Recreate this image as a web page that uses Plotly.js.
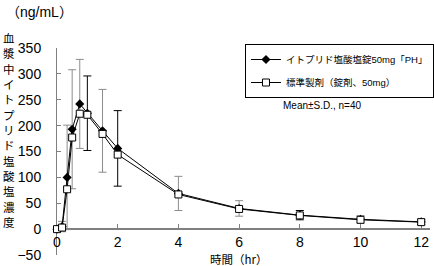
<!DOCTYPE html>
<html>
<head>
<meta charset="utf-8">
<script src="https://cdn.plot.ly/plotly-3.0.1.min.js"></script>
<style>html,body{margin:0;padding:0;background:#fff;}#chart{width:434px;height:266px;}</style>
</head>
<body>
<div id="chart"></div>
<script>
// Time (hr)
const times = [0, 0.167, 0.333, 0.5, 0.75, 1, 1.5, 2, 4, 6, 8, 10, 12];
// イトプリド塩酸塩錠50mg「PH」 mean (ng/mL)
const testMean = [0, 5, 100, 193, 242, 224, 190, 156, 69, 40, 27, 19, 14];
// 標準製剤（錠剤、50mg） mean (ng/mL)
const refMean = [0, 3, 77, 177, 223, 221, 184, 144, 67, 39, 26.5, 18, 13.5];
// S.D. bars drawn in black
const sdBlack = [NaN, NaN, NaN, NaN, NaN, 72, NaN, 73, NaN, NaN, 9, NaN, 5];
// S.D. bars drawn in grey
const sdGrey = [NaN, 10, 101, 115, 86, NaN, 80, NaN, 33, 15, NaN, 7, NaN];

const nameTest = 'イトプリド塩酸塩錠50mg「PH」';
const nameRef = '標準製剤（錠剤、50mg）';
const xTicks = [0, 2, 4, 6, 8, 10, 12];
const yTitleChars = ['血', '漿', '中', 'イ', 'ト', 'プ', 'リ', 'ド', '塩', '酸', '塩', '濃', '度'];

const FONT = 'Liberation Sans, Arial, Noto Sans CJK JP, sans-serif';
const JFONT = 'Noto Sans CJK JP, sans-serif';

const data = [
  {
    x: times, y: testMean, type: 'scatter', mode: 'markers',
    marker: {opacity: 0}, showlegend: false, hoverinfo: 'skip', cliponaxis: false,
    error_y: {type: 'data', array: sdGrey, visible: true, color: '#8c8c8c', thickness: 1, width: 4}
  },
  {
    x: times, y: testMean, type: 'scatter', mode: 'lines+markers', name: nameTest,
    legendgroup: 'a', cliponaxis: false,
    line: {color: '#000', width: 1},
    marker: {symbol: 'diamond', size: 7, color: '#000'},
    error_y: {type: 'data', array: sdBlack, visible: true, color: '#000', thickness: 1, width: 4}
  },
  {
    x: times, y: refMean, type: 'scatter', mode: 'lines+markers', name: nameRef,
    legendgroup: 'b', cliponaxis: false,
    line: {color: '#000', width: 1},
    marker: {symbol: 'square', size: 7, color: '#fff', line: {color: '#000', width: 1}}
  }
];

// plot area: left 57, top 48, width 377, height 207
const px = v => (v - 57) / 377;
const py = v => (255 - v) / 207;

const annotations = [
  {xref: 'paper', yref: 'paper', x: px(39), y: py(12), xanchor: 'center', yanchor: 'middle',
   text: '（ng/mL）', showarrow: false, font: {family: FONT, size: 14, color: '#000'}},
  {xref: 'paper', yref: 'paper', x: px(240.5), y: py(258.5), xanchor: 'center', yanchor: 'middle',
   borderpad: 0, text: '時間（hr）', showarrow: false, font: {family: JFONT, size: 11.5, color: '#000'}},
  {xref: 'paper', yref: 'paper', x: px(283), y: py(105), xanchor: 'left', yanchor: 'middle',
   text: 'Mean±S.D., n=40', showarrow: false, font: {family: FONT, size: 10, color: '#000'}}
];
yTitleChars.forEach((c, i) => {
  annotations.push({
    xref: 'paper', yref: 'paper', x: px(8), y: py(38 + i * 15.33), xanchor: 'center', yanchor: 'middle',
    borderpad: 0, text: c, showarrow: false, font: {family: JFONT, size: 11.5, color: '#000'}
  });
});

const layout = {
  width: 434, height: 266,
  margin: {l: 57, r: 0, t: 48, b: 11},
  paper_bgcolor: '#fff', plot_bgcolor: 'rgba(0,0,0,0)',
  font: {family: FONT, size: 14, color: '#000'},
  showlegend: true,
  legend: {
    x: px(247), y: py(44), xanchor: 'left', yanchor: 'top',
    bordercolor: '#000', borderwidth: 1, bgcolor: '#fff',
    font: {family: FONT, size: 9.5, color: '#000'},
    traceorder: 'grouped', tracegroupgap: 4
  },
  xaxis: {
    range: [0, 12.29], anchor: 'free', position: 0.125,
    tickvals: xTicks, ticks: 'inside', ticklen: 4, tickcolor: '#808080',
    showline: true, linecolor: '#808080', linewidth: 2,
    showgrid: false, zeroline: false, layer: 'below traces',
    tickfont: {family: FONT, size: 14, color: '#000'}, ticklabelstandoff: 0
  },
  yaxis: {
    range: [-50, 350], dtick: 50, ticks: 'inside', ticklen: 4, tickcolor: '#808080',
    showline: true, linecolor: '#808080', linewidth: 1,
    showgrid: false, zeroline: false, layer: 'below traces',
    tickfont: {family: FONT, size: 14, color: '#000'}, ticklabelstandoff: 12
  },
  annotations: annotations
};

Plotly.newPlot('chart', data, layout, {staticPlot: true, displayModeBar: false});
</script>
</body>
</html>
